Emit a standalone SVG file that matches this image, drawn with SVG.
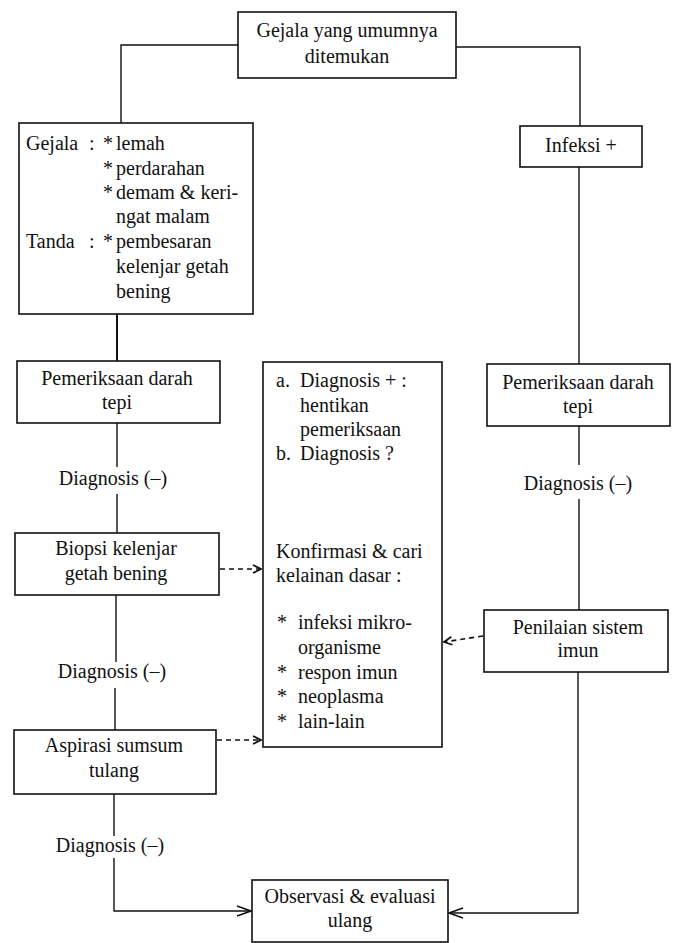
<svg xmlns="http://www.w3.org/2000/svg" width="676" height="943" viewBox="0 0 676 943">
<style>
.box{fill:#fff;stroke:#111;stroke-width:1.6}
.ln{fill:none;stroke:#111;stroke-width:1.4}
.dash{fill:none;stroke:#111;stroke-width:1.6;stroke-dasharray:5,4}
text{font-family:"Liberation Serif","Times New Roman",serif;font-size:20px;fill:#111}
.c{text-anchor:middle}
</style>
<defs>
<marker id="ah" viewBox="0 0 10 10" refX="9" refY="5" markerWidth="10" markerHeight="10" markerUnits="userSpaceOnUse" orient="auto">
<path d="M1,1 L9,5 L1,9" fill="none" stroke="#111" stroke-width="1.8"/>
</marker>
<marker id="ahb" viewBox="0 0 16 12" refX="15" refY="6" markerWidth="16" markerHeight="12" markerUnits="userSpaceOnUse" orient="auto">
<path d="M1,1 L15,6 L1,11" fill="none" stroke="#111" stroke-width="1.6"/>
</marker>
</defs>
<g id="connectors">
<polyline class="ln" points="238,45 121,45 121,123"/>
<polyline class="ln" points="456,47 580,47 580,126"/>
<line class="ln" x1="117" y1="314" x2="117" y2="361" style="stroke-width:2"/>
<line class="ln" x1="117" y1="423" x2="117" y2="467"/>
<line class="ln" x1="117" y1="494" x2="117" y2="533"/>
<line class="ln" x1="116" y1="595" x2="116" y2="662"/>
<line class="ln" x1="115" y1="688" x2="115" y2="730"/>
<line class="ln" x1="114" y1="794" x2="114" y2="836"/>
<polyline class="ln" points="114,858 114,911 251,911" marker-end="url(#ahb)"/>
<line class="ln" x1="579" y1="167" x2="579" y2="364"/>
<line class="ln" x1="579" y1="426" x2="579" y2="465"/>
<line class="ln" x1="579" y1="499" x2="579" y2="610"/>
<polyline class="ln" points="578,672 578,913 449,913" marker-end="url(#ahb)"/>
<line class="ln" x1="352" y1="478" x2="352" y2="530"/>
<line class="dash" x1="220" y1="569" x2="261" y2="569" marker-end="url(#ah)"/>
<line class="dash" x1="217" y1="740" x2="261" y2="740" marker-end="url(#ah)"/>
<line class="dash" x1="483" y1="636" x2="444" y2="642" marker-end="url(#ah)"/>
</g>
<g id="top">
<rect class="box" x="238" y="12" width="218" height="66"/>
<text class="c" x="347" y="37">Gejala yang umumnya</text>
<text class="c" x="347" y="63">ditemukan</text>
</g>
<g id="infeksi">
<rect class="box" x="520" y="126" width="122" height="41"/>
<text class="c" x="581" y="152">Infeksi +</text>
</g>
<g id="gejala">
<rect class="box" x="19" y="123" width="234" height="191"/>
<text x="26" y="150">Gejala</text>
<text x="89" y="150">:</text>
<text x="103" y="150">*</text>
<text x="116" y="150">lemah</text>
<text x="103" y="175">*</text>
<text x="116" y="175">perdarahan</text>
<text x="103" y="199">*</text>
<text x="116" y="199">demam &amp; keri-</text>
<text x="116" y="223">ngat malam</text>
<text x="26" y="248">Tanda</text>
<text x="89" y="248">:</text>
<text x="103" y="248">*</text>
<text x="116" y="248">pembesaran</text>
<text x="116" y="273">kelenjar getah</text>
<text x="116" y="298">bening</text>
</g>
<g id="pemeriksaan-kiri">
<rect class="box" x="17" y="361" width="203" height="62"/>
<text class="c" x="117" y="385">Pemeriksaan darah</text>
<text class="c" x="117" y="409">tepi</text>
</g>
<g id="label-diag1">
<text class="c" x="113" y="485">Diagnosis (–)</text>
</g>
<g id="biopsi">
<rect class="box" x="15" y="533" width="204" height="62"/>
<text class="c" x="116" y="555">Biopsi kelenjar</text>
<text class="c" x="116" y="580">getah bening</text>
</g>
<g id="label-diag2">
<text class="c" x="112" y="678">Diagnosis (–)</text>
</g>
<g id="aspirasi">
<rect class="box" x="14" y="730" width="202" height="64"/>
<text class="c" x="114" y="752">Aspirasi sumsum</text>
<text class="c" x="114" y="777">tulang</text>
</g>
<g id="label-diag3">
<text class="c" x="110" y="852">Diagnosis (–)</text>
</g>
<g id="observasi">
<rect class="box" x="252" y="880" width="196" height="62"/>
<text class="c" x="350" y="903">Observasi &amp; evaluasi</text>
<text class="c" x="350" y="927">ulang</text>
</g>
<g id="tengah">
<rect class="box" x="263" y="362" width="179" height="385"/>
<text x="276" y="387">a.</text>
<text x="300" y="387">Diagnosis + :</text>
<text x="300" y="412">hentikan</text>
<text x="300" y="436">pemeriksaan</text>
<text x="276" y="460">b.</text>
<text x="300" y="460">Diagnosis ?</text>
<text x="276" y="558">Konfirmasi &amp; cari</text>
<text x="276" y="582">kelainan dasar :</text>
<text x="277" y="629">*</text>
<text x="298" y="629">infeksi mikro-</text>
<text x="298" y="654">organisme</text>
<text x="277" y="679">*</text>
<text x="298" y="679">respon imun</text>
<text x="277" y="703">*</text>
<text x="298" y="703">neoplasma</text>
<text x="277" y="728">*</text>
<text x="298" y="728">lain-lain</text>
</g>
<g id="pemeriksaan-kanan">
<rect class="box" x="487" y="364" width="183" height="62"/>
<text class="c" x="578" y="389">Pemeriksaan darah</text>
<text class="c" x="578" y="413">tepi</text>
</g>
<g id="label-diag4">
<text class="c" x="578" y="490">Diagnosis (–)</text>
</g>
<g id="penilaian">
<rect class="box" x="484" y="610" width="184" height="62"/>
<text class="c" x="578" y="634">Penilaian sistem</text>
<text class="c" x="578" y="657">imun</text>
</g>
</svg>
